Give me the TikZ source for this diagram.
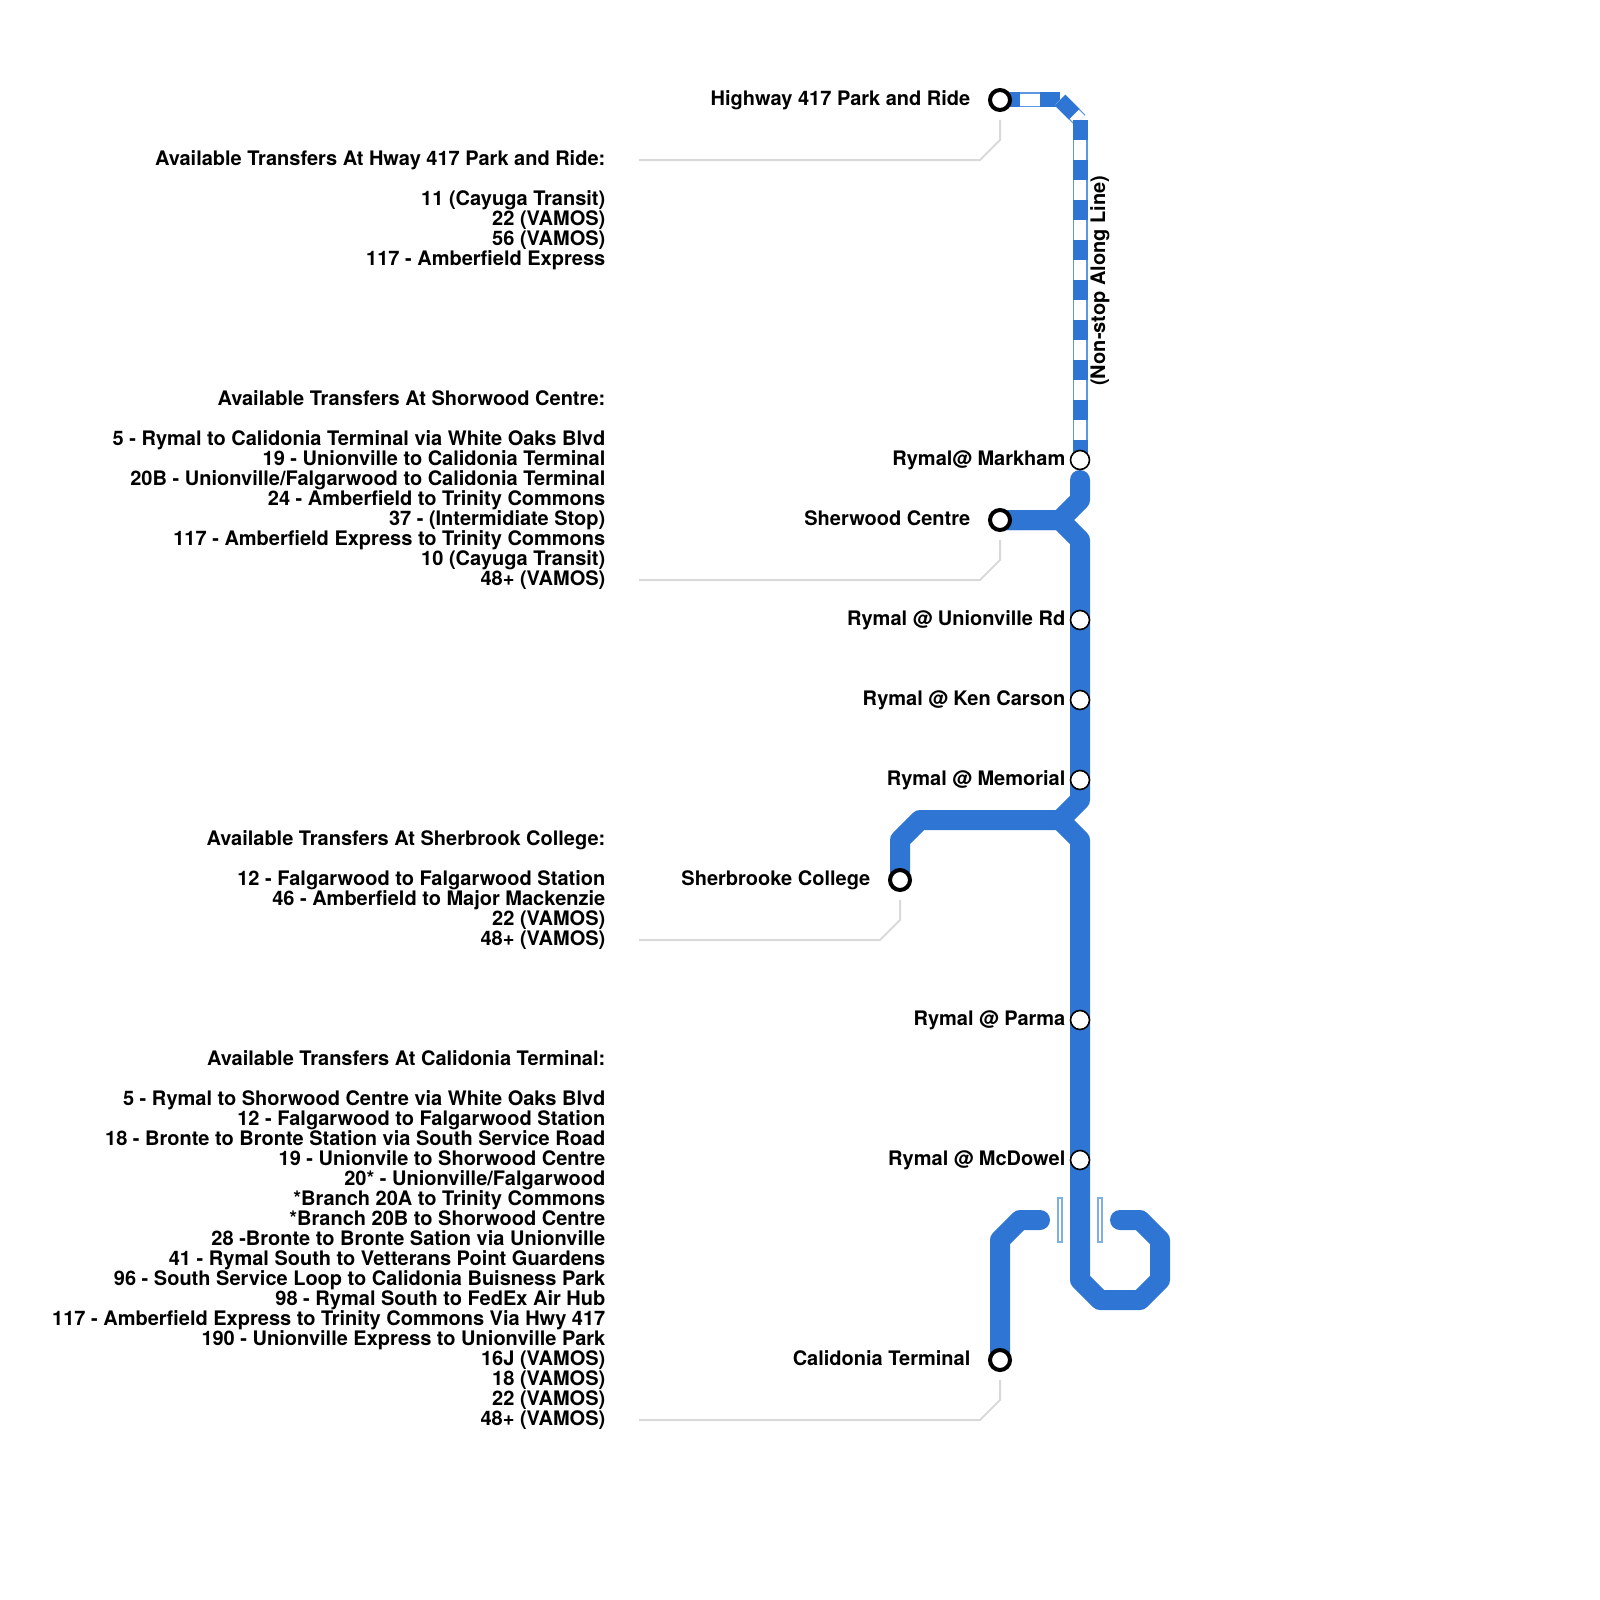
\documentclass[tikz,border=0pt]{standalone}
\usepackage{fontspec}
\setmainfont{TeX Gyre Heros}
\definecolor{route}{HTML}{2E75D4}
\definecolor{edgeblue}{HTML}{5C97E2}
\definecolor{markblue}{HTML}{7FAEE8}
\definecolor{leader}{HTML}{D9D9D9}
\tikzset{
  routeline/.style={draw=route,line width=20pt,line cap=round,line join=round},
  stripebase/.style={draw=edgeblue,line width=15pt},
  stripewhite/.style={draw=white,line width=12.4pt},
  stripeblue/.style={draw=route,line width=15pt,dash pattern=on 20pt off 20pt},
  leaderline/.style={draw=leader,line width=2pt,line join=miter},
  terminal/.style={circle,draw=black,fill=white,line width=4pt,minimum size=20pt,inner sep=0pt},
  stopdot/.style={circle,draw=black,fill=white,line width=1.6pt,minimum size=19pt,inner sep=0pt},
  stoplabel/.style={anchor=base east,inner sep=0pt,font=\fontsize{20}{20}\selectfont\bfseries},
  transfer/.style={anchor=base east,inner sep=0pt,align=right,font=\fontsize{20}{20}\selectfont\bfseries},
  bridgemark/.style={draw=markblue,fill=white,line width=1.2pt,minimum width=4pt,minimum height=44pt,inner sep=0pt},
}
\begin{document}
\begin{tikzpicture}[x=1pt,y=-1pt]
\useasboundingbox (0,0) rectangle (1600,1600);
% way points
\coordinate (hA) at (1060,100);
\coordinate (hB) at (1080,120);
\coordinate (mkTop) at (1080,480);
\coordinate (mkB) at (1080,500);
\coordinate (jS) at (1060,520);
\coordinate (sA) at (1080,540);
\coordinate (mmB) at (1080,800);
\coordinate (jC) at (1060,820);
\coordinate (cA) at (920,820);
\coordinate (cB) at (900,840);
\coordinate (sB) at (1080,840);
\coordinate (lA) at (1080,1280);
\coordinate (lB) at (1100,1300);
\coordinate (lC) at (1140,1300);
\coordinate (lD) at (1160,1280);
\coordinate (lE) at (1160,1240);
\coordinate (lF) at (1140,1220);
\coordinate (lG) at (1120,1220);
\coordinate (tA) at (1000,1240);
\coordinate (tB) at (1020,1220);
\coordinate (tC) at (1040,1220);
\coordinate (hwyC) at (1000,100);
\coordinate (sherC) at (1000,520);
\coordinate (collC) at (900,880);
\coordinate (caliC) at (1000,1360);
\coordinate (markC) at (1080,460);
\coordinate (memoC) at (1080,780);
% leader way points
\coordinate (g1a) at (1000,120); \coordinate (g1b) at (1000,140); \coordinate (g1c) at (980,160); \coordinate (g1d) at (639,160);
\coordinate (g2a) at (1000,540); \coordinate (g2b) at (1000,560); \coordinate (g2c) at (980,580); \coordinate (g2d) at (639,580);
\coordinate (g3a) at (900,900); \coordinate (g3b) at (900,920); \coordinate (g3c) at (880,940); \coordinate (g3d) at (639,940);
\coordinate (g4a) at (1000,1380); \coordinate (g4b) at (1000,1400); \coordinate (g4c) at (980,1420); \coordinate (g4d) at (639,1420);
\draw[leaderline] (g1a) -- (g1b) -- (g1c) -- (g1d);
\draw[leaderline] (g2a) -- (g2b) -- (g2c) -- (g2d);
\draw[leaderline] (g3a) -- (g3b) -- (g3c) -- (g3d);
\draw[leaderline] (g4a) -- (g4b) -- (g4c) -- (g4d);
% striped non-stop section
\draw[stripebase] (hwyC) -- (hA);
\draw[stripewhite] (hwyC) -- (hA);
\draw[stripeblue] (hwyC) -- (hA);
\draw[stripebase] (hA) -- (hB);
\draw[stripewhite] (hA) -- (hB);
\draw[stripeblue] (hA) -- (hB);
\draw[stripebase] (hB) -- (markC);
\draw[stripewhite] (hB) -- (markC);
\draw[stripeblue] (hB) -- (markC);
% solid routes
\draw[routeline] (mkTop) -- (mkB) -- (jS) -- (sherC);
\draw[routeline] (sherC) -- (jS) -- (sA) -- (memoC) -- (mmB) -- (jC) -- (cA) -- (cB) -- (collC);
\draw[routeline] (jC) -- (sB) -- (lA) -- (lB) -- (lC) -- (lD) -- (lE) -- (lF) -- (lG);
\draw[routeline] (caliC) -- (tA) -- (tB) -- (tC);
% bridge marks
\node[bridgemark] (brL) at (1060,1220) {};
\node[bridgemark] (brR) at (1100,1220) {};
% stations
\node[terminal] (hwy) at (hwyC) {};
\node[terminal] (sher) at (sherC) {};
\node[terminal] (coll) at (collC) {};
\node[terminal] (cali) at (caliC) {};
\node[stopdot] (mark) at (markC) {};
\node[stopdot] (unio) at (1080,620) {};
\node[stopdot] (kenc) at (1080,700) {};
\node[stopdot] (memo) at (memoC) {};
\node[stopdot] (parm) at (1080,1020) {};
\node[stopdot] (mcdo) at (1080,1160) {};
% stop labels
\node[stoplabel] (lhwy) at (970.5,105.5) {Highway 417 Park and Ride};
\node[stoplabel] (lsher) at (970.5,525) {Sherwood Centre};
\node[stoplabel] (lcoll) at (870.5,885) {Sherbrooke College};
\node[stoplabel] (lcali) at (970.5,1365) {Calidonia Terminal};
\node[stoplabel] (lmark) at (1065.5,465) {Rymal@ Markham};
\node[stoplabel] (lunio) at (1065.5,625) {Rymal @ Unionville Rd};
\node[stoplabel] (lkenc) at (1065.5,705) {Rymal @ Ken Carson};
\node[stoplabel] (lmemo) at (1065.5,785) {Rymal @ Memorial};
\node[stoplabel] (lparm) at (1065.5,1025) {Rymal @ Parma};
\node[stoplabel] (lmcdo) at (1065.5,1165) {Rymal @ McDowel};
\node[stoplabel,rotate=90] (lnons) at (1105,175.5) {(Non-stop Along Line)};
% transfer lists
\node[transfer] (t1) at (605.5,265) {Available Transfers At Hway 417 Park and Ride:\\[20pt]
11 (Cayuga Transit)\\22 (VAMOS)\\56 (VAMOS)\\117 - Amberfield Express};
\node[transfer] (t2) at (605.5,585) {Available Transfers At Shorwood Centre:\\[20pt]
5 - Rymal to Calidonia Terminal via White Oaks Blvd\\
19 - Unionville to Calidonia Terminal\\
20B - Unionville/Falgarwood to Calidonia Terminal\\
24 - Amberfield to Trinity Commons\\
37 - (Intermidiate Stop)\\
117 - Amberfield Express to Trinity Commons\\
10 (Cayuga Transit)\\
48+ (VAMOS)};
\node[transfer] (t3) at (605.5,945) {Available Transfers At Sherbrook College:\\[20pt]
12 - Falgarwood to Falgarwood Station\\
46 - Amberfield to Major Mackenzie\\
22 (VAMOS)\\
48+ (VAMOS)};
\node[transfer] (t4) at (605.5,1425) {Available Transfers At Calidonia Terminal:\\[20pt]
5 - Rymal to Shorwood Centre via White Oaks Blvd\\
12 - Falgarwood to Falgarwood Station\\
18 - Bronte to Bronte Station via South Service Road\\
19 - Unionvile to Shorwood Centre\\
20* - Unionville/Falgarwood\\
*Branch 20A to Trinity Commons\\
*Branch 20B to Shorwood Centre\\
28 -Bronte to Bronte Sation via Unionville\\
41 - Rymal South to Vetterans Point Guardens\\
96 - South Service Loop to Calidonia Buisness Park\\
98 - Rymal South to FedEx Air Hub\\
117 - Amberfield Express to Trinity Commons Via Hwy 417\\
190 - Unionville Express to Unionville Park\\
16J (VAMOS)\\
18 (VAMOS)\\
22 (VAMOS)\\
48+ (VAMOS)};
\end{tikzpicture}
\end{document}
